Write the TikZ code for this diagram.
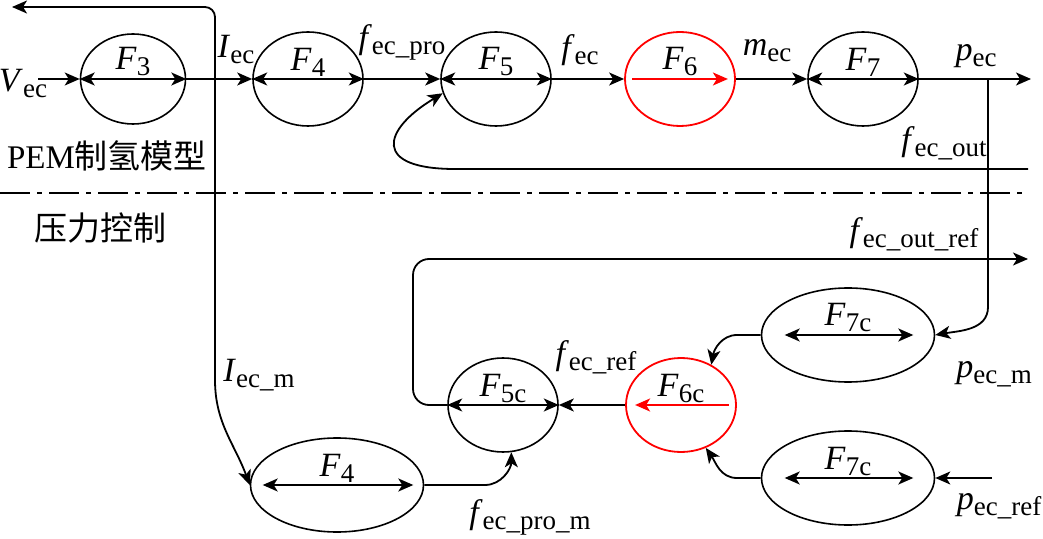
\documentclass[tikz,border=0pt]{standalone}
\usepackage{fontspec}
\setmainfont{Liberation Serif}
\newfontfamily\cjk{Noto Sans CJK SC}
\usetikzlibrary{arrows.meta,shapes.geometric}
\definecolor{CtrlRed}{RGB}{255,0,0}
\newcommand{\vsub}[2]{\textit{#1}\raisebox{-3pt}{\fontsize{13.5}{13.5}\selectfont #2}}

\begin{document}
\begin{tikzpicture}[x=0.5pt,y=-0.5pt,
  fn/.style={ellipse,draw,line width=0.8pt,inner sep=0pt,minimum width=55pt,minimum height=47pt},
  wide/.style={minimum width=86.5pt,minimum height=47pt},
  hot/.style={draw=CtrlRed,line width=0.9pt},
  lbl/.style={inner sep=0pt,font=\fontsize{17}{17}\selectfont},
  fname/.style={lbl,yshift=8.5pt},
  zh/.style={inner sep=0pt,font=\fontsize{16.5}{16.5}\selectfont},
  arrow/.style={-{Stealth[length=7.5pt,width=6.5pt,inset=2pt]},line width=0.9pt},
  both/.style={{Stealth[length=7.5pt,width=6.5pt,inset=2pt]}-{Stealth[length=7.5pt,width=6.5pt,inset=2pt]},line width=0.9pt}
]
\useasboundingbox (0,0) rectangle (1043,539);
\node[fn,minimum width=52.5pt,minimum height=45pt] (F3) at (133,79) {};
\node[fn] (F4) at (308,79) {};
\node[fn] (F5) at (496,79) {};
\node[fn,hot] (F6) at (680,79) {};
\node[fn] (F7) at (863,79) {};
\node[fn,wide] (F4b) at (337,485) {};
\node[fn] (F5c) at (503,405) {};
\node[fn,hot] (F6c) at (681,405) {};
\node[fn,wide] (F7cA) at (848,335) {};
\node[fn,wide] (F7cB) at (848,478) {};
\node[fname] (tF3) at (F3) {\vsub{F}{3}};
\node[fname] (tF4) at (F4) {\vsub{F}{4}};
\node[fname] (tF5) at (F5) {\vsub{F}{5}};
\node[fname] (tF6) at (F6) {\vsub{F}{6}};
\node[fname] (tF7) at (F7) {\vsub{F}{7}};
\node[fname] (tF4b) at (F4b) {\vsub{F}{4}};
\node[fname] (tF5c) at (F5c) {\vsub{F}{5c}};
\node[fname] (tF6c) at (F6c) {\vsub{F}{6c}};
\node[fname] (tF7cA) at (F7cA) {\vsub{F}{7c}};
\node[fname] (tF7cB) at (F7cB) {\vsub{F}{7c}};
\node[lbl] (Vec) at (23,84) {\vsub{V}{ec}};
\node[lbl] (Iec) at (236,50) {\vsub{I}{ec}};
\node[lbl] (fecpro) at (402,42) {\vsub{f}{ec\_pro}};
\node[lbl] (fec) at (580,50) {\vsub{f}{ec}};
\node[lbl] (mec) at (767,51) {\vsub{m}{ec}};
\node[lbl] (pec) at (976,56) {\vsub{p}{ec}};
\node[lbl] (fecout) at (944,143) {\vsub{f}{ec\_out}};
\node[zh] (model) at (107,156) {PEM\cjk 制氢模型};
\node[zh] (ctrl) at (100,228) {\cjk 压力控制};
\node[lbl] (Iecm) at (259,375) {\vsub{I}{ec\_m}};
\node[lbl] (fecprom) at (530,517) {\vsub{f}{ec\_pro\_m}};
\node[lbl] (fecref) at (596,357) {\vsub{f}{ec\_ref}};
\node[lbl] (fecoutref) at (914,234) {\vsub{f}{ec\_out\_ref}};
\node[lbl] (pecm) at (994,374) {\vsub{p}{ec\_m}};
\node[lbl] (pecref) at (999,506) {\vsub{p}{ec\_ref}};
\coordinate (vin) at (38,79);
\coordinate (pout) at (1031,79);
\coordinate (jI) at (215,79);
\coordinate (jp) at (988,79);
\coordinate (Iout) at (12,7);
\coordinate (fout) at (1028,169);
\coordinate (frefout) at (1028,259);
\coordinate (pref) at (992,478);
\draw[arrow] (vin)--(F3.west); \draw[arrow] (F3.east)--(F4.west); \draw[arrow] (F4.east)--(F5.west);
\draw[arrow] (F5.east)--(F6.west); \draw[arrow] (F6.east)--(F7.west); \draw[arrow] (F7.east)--(pout);
\draw[both] (F3.west)--(F3.east); \draw[both] (F4.west)--(F4.east); \draw[both] (F5.west)--(F5.east);
\draw[both] (F7.west)--(F7.east); \draw[both] (F5c.west)--(F5c.east);
\draw[both] ([xshift=6.5pt]F4b.west)--([xshift=-5.5pt]F4b.east);
\draw[both] ([xshift=12pt]F7cA.west)--([xshift=-11pt]F7cA.east);
\draw[both] ([xshift=12pt]F7cB.west)--([xshift=-11pt]F7cB.east);
\draw[arrow,CtrlRed] ([xshift=4pt]F6.west)--([xshift=-4pt]F6.east);
\draw[arrow,CtrlRed] ([xshift=-4pt]F6c.east)--([xshift=5pt]F6c.west);
\draw[arrow,rounded corners=5pt] (jI)--(215,7)--(Iout);
\draw[arrow] (jI)--(215,380) to[out=-90,in=110] (F4b.west);
\draw[arrow] (jp)--(988,307) to[out=-90,in=10] (F7cA.east);
\draw[arrow] (fout)--(455,169) .. controls (372,169) and (382,130) .. (F5.195);
\draw[arrow,rounded corners=8pt] (F5c.west)--(413,405)--(413,259)--(frefout);
\draw[arrow] (F4b.east)--(485,485) to[out=0,in=-90] (F5c.280);
\draw[arrow] (F6c.west)--(F5c.east);
\draw[arrow] (F7cA.west)--(737,335) to[out=180,in=80] (F6c.53);
\draw[arrow] (F7cB.west)--(737,478) to[out=180,in=-55] (F6c.-60);
\draw[arrow] (pref)--(F7cB.east);
\draw[line width=0.8pt,dash pattern=on 15pt off 3.5pt on 2.5pt off 3.5pt] (0,193)--(1022,193);
\end{tikzpicture}
\end{document}
